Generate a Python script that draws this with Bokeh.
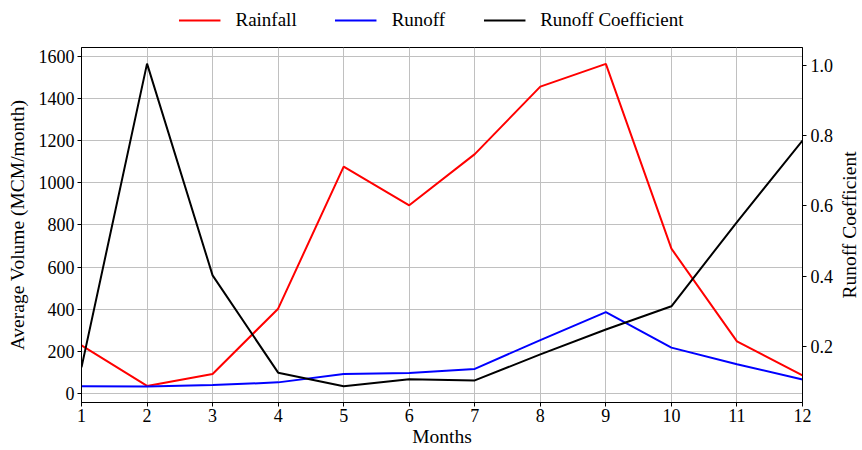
from bokeh.plotting import figure
from bokeh.layouts import column, row
from bokeh.models import Range1d, LinearAxis, Legend, LegendItem, FixedTicker, Title
from bokeh.embed import file_html
from bokeh.resources import INLINE

months = [1, 2, 3, 4, 5, 6, 7, 8, 9, 10, 11, 12]
rainfall = [228, 35, 92, 402, 1077, 893, 1136, 1457, 1565, 687, 247, 85]
runoff = [33, 32, 39, 52, 92, 96, 116, 253, 386, 217, 138, 66]
runoff_coef = [0.14, 1.005, 0.402, 0.125, 0.086, 0.106, 0.103, 0.177, 0.248, 0.314, 0.554, 0.786]

left_ticks = [0, 200, 400, 600, 800, 1000, 1200, 1400, 1600]
right_ticks = [0.2, 0.4, 0.6, 0.8, 1.0]
right_tick_labels = ["0.2", "0.4", "0.6", "0.8", "1.0"]

FONT = "Liberation Serif"
TICK_FS = "18px"
LABEL_FS = "19.5px"
LEG_FS = "19px"

RED, BLUE, BLACK = "#ff0000", "#0000ff", "#000000"

# ---- legend strip (separate small figure above the chart) ----
top = figure(width=862, height=40, output_backend="svg", toolbar_location=None,
             x_axis_type=None, y_axis_type=None, min_border=0,
             x_range=Range1d(0, 1), y_range=Range1d(-10, -9))
top.outline_line_color = None
top.xgrid.visible = False
top.ygrid.visible = False
t1 = top.line(months, rainfall, line_color=RED, line_width=2)
t2 = top.line(months, runoff, line_color=BLUE, line_width=2)
t3 = top.line(months, runoff_coef, line_color=BLACK, line_width=2)
legend = Legend(items=[LegendItem(label="Rainfall", renderers=[t1]),
                       LegendItem(label="Runoff", renderers=[t2]),
                       LegendItem(label="Runoff Coefficient", renderers=[t3])],
                orientation="horizontal", location="center", margin=0, padding=2,
                glyph_width=42, label_standoff=15, spacing=38,
                border_line_alpha=0, background_fill_alpha=0,
                label_text_font=FONT, label_text_font_size=LEG_FS, label_text_color="black")
top.add_layout(legend, "center")

# ---- main chart ----
p = figure(width=836, height=410, output_backend="svg", toolbar_location=None,
           x_range=Range1d(1, 12), y_range=Range1d(-43.6, 1642.6),
           min_border_left=81, min_border_right=28, min_border_top=7, min_border_bottom=48)
p.extra_y_ranges = {"coef": Range1d(0.040, 1.051)}

p.background_fill_color = "white"
p.border_fill_color = "white"
p.outline_line_color = "black"
p.outline_line_width = 1

r1 = p.line(months, rainfall, line_color=RED, line_width=2)
r2 = p.line(months, runoff, line_color=BLUE, line_width=2)
r3 = p.line(months, runoff_coef, line_color=BLACK, line_width=2, y_range_name="coef")

def style(ax):
    ax.major_label_text_font = FONT
    ax.major_label_text_font_size = TICK_FS
    ax.axis_label_text_font = FONT
    ax.axis_label_text_font_size = LABEL_FS
    ax.axis_label_text_font_style = "normal"
    ax.major_tick_in = 0
    ax.major_tick_out = 4
    ax.minor_tick_line_color = None
    ax.axis_line_color = "black"
    ax.major_tick_line_color = "black"
    ax.major_label_text_color = "black"
    ax.axis_label_text_color = "black"
    ax.major_label_standoff = 3

style(p.xaxis[0])
style(p.yaxis[0])
p.xaxis[0].ticker = FixedTicker(ticks=months)
p.xaxis[0].axis_label = "Months"
p.xaxis[0].axis_label_standoff = 1
p.xaxis[0].major_label_standoff = 2
p.yaxis[0].ticker = FixedTicker(ticks=left_ticks)
p.yaxis[0].axis_label = "Average Volume (MCM/month)"
p.yaxis[0].axis_label_standoff = 8

rax = LinearAxis(y_range_name="coef",
                 ticker=FixedTicker(ticks=right_ticks),
                 major_label_overrides={t: l for t, l in zip(right_ticks, right_tick_labels)})
style(rax)
rax.major_label_standoff = 4
p.add_layout(rax, "right")

p.xgrid.grid_line_color = "#c0c0c0"
p.ygrid.grid_line_color = "#c0c0c0"
p.xgrid.grid_line_width = 1
p.ygrid.grid_line_width = 1

# ---- right axis title (reads bottom-to-top, as in the reference) ----
strip = figure(width=26, height=410, output_backend="svg", toolbar_location=None,
               x_axis_type=None, y_axis_type=None, min_border=0,
               x_range=Range1d(0, 1), y_range=Range1d(0, 1))
strip.outline_line_color = None
strip.xgrid.visible = False
strip.ygrid.visible = False
strip.add_layout(Title(text="Runoff Coefficient", align="center", text_font=FONT,
                       text_font_size=LABEL_FS, text_font_style="normal",
                       text_color="black", standoff=0, offset=0), "left")

layout = column(top, row(p, strip, spacing=0), spacing=0)
open("out.html", "w").write(file_html(layout, INLINE))
